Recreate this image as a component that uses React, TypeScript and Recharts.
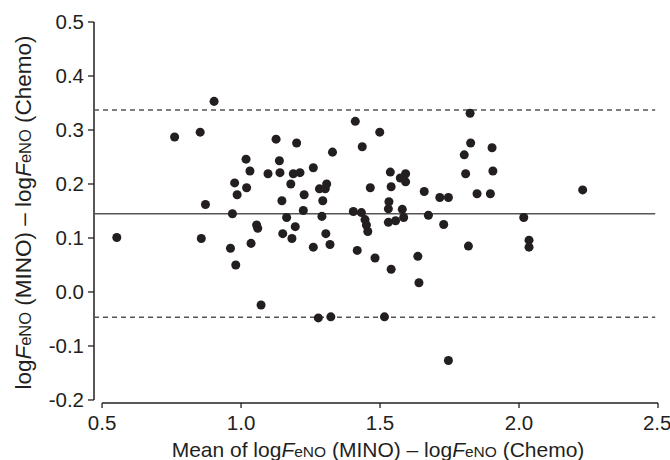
import {
  ScatterChart,
  Scatter,
  XAxis,
  YAxis,
  ZAxis,
  ReferenceLine
} from 'recharts';

// Bland-Altman: mean of the two log FeNO values vs their difference
const meanVals = [
  0.553, 0.761, 0.853, 0.857, 0.872, 0.903, 0.962, 0.969, 0.977, 0.981,
  0.986, 1.018, 1.020, 1.032, 1.036, 1.056, 1.060, 1.072, 1.097, 1.126,
  1.138, 1.140, 1.147, 1.150, 1.164, 1.179, 1.183, 1.188, 1.195, 1.200,
  1.212, 1.224, 1.227, 1.260, 1.260, 1.278, 1.282, 1.291, 1.294, 1.303,
  1.305, 1.308, 1.320, 1.323, 1.329, 1.404, 1.411, 1.418, 1.433, 1.436,
  1.446, 1.451, 1.456, 1.465, 1.482, 1.499, 1.516, 1.530, 1.530, 1.532,
  1.537, 1.540, 1.540, 1.556, 1.573, 1.580, 1.585, 1.592, 1.592, 1.636,
  1.640, 1.659, 1.674, 1.715, 1.729, 1.746, 1.746, 1.803, 1.808, 1.818,
  1.824, 1.826, 1.849, 1.897, 1.903, 1.906, 2.017, 2.036, 2.036, 2.229
];
const diffVals = [
  0.101, 0.287, 0.296, 0.099, 0.162, 0.353, 0.081, 0.145, 0.202, 0.050,
  0.180, 0.246, 0.193, 0.224, 0.090, 0.124, 0.118, -0.024, 0.219, 0.283,
  0.243, 0.221, 0.169, 0.108, 0.138, 0.200, 0.099, 0.219, 0.121, 0.276,
  0.221, 0.151, 0.180, 0.230, 0.083, -0.048, 0.191, 0.140, 0.169, 0.191,
  0.108, 0.200, 0.088, -0.046, 0.259, 0.149, 0.316, 0.077, 0.147, 0.269,
  0.134, 0.124, 0.112, 0.193, 0.063, 0.296, -0.046, 0.154, 0.129, 0.167,
  0.222, 0.195, 0.042, 0.132, 0.211, 0.153, 0.138, 0.219, 0.204, 0.066,
  0.017, 0.186, 0.142, 0.175, 0.125, 0.175, -0.127, 0.254, 0.219, 0.085,
  0.331, 0.276, 0.182, 0.182, 0.267, 0.224, 0.138, 0.096, 0.083, 0.189
];

const bias = 0.145;
const upperLoA = 0.337;
const lowerLoA = -0.047;

const xTicks = [0.5, 1.0, 1.5, 2.0, 2.5];
const yTicks = [-0.2, -0.1, 0.0, 0.1, 0.2, 0.3, 0.4, 0.5];

const data = meanVals.map((m, i) => ({ mean: m, diff: diffVals[i] }));

// axes are offset a little from the plot corner, Prism style
const xMin = 0.471;
const yMin = -0.2056;

const ink = '#231f20';
const font = '"Liberation Sans", Arial, sans-serif';

const Title = ({ prefix, sub }: { prefix?: string; sub: number }) => (
  <>
    {prefix}log<tspan fontStyle="italic">F</tspan>
    <tspan fontSize={sub}>eNO</tspan> (MINO) – log<tspan fontStyle="italic">F</tspan>
    <tspan fontSize={sub}>eNO</tspan> (Chemo)
  </>
);

const XTitle = (props: any) => {
  const vb = props.viewBox || { x: 94, y: 403, width: 564, height: 57 };
  const cx = vb.x + vb.width / 2 + 2;
  return (
    <text x={cx} y={vb.y + 54} textAnchor="middle" fontSize={21} fill={ink} fontFamily={font}>
      <Title prefix="Mean of " sub={15.5} />
    </text>
  );
};

const YTitle = (props: any) => {
  const vb = props.viewBox || { x: 0, y: 22, width: 94, height: 381 };
  const cx = 31;
  const cy = vb.y + vb.height / 2;
  return (
    <text
      x={cx}
      y={cy}
      textAnchor="middle"
      fontSize={22.5}
      fill={ink}
      fontFamily={font}
      transform={`rotate(-90, ${cx}, ${cy})`}
    >
      <Title sub={16.5} />
    </text>
  );
};

const App = () => {
  return (
    <div style={{ position: 'absolute', left: 0, top: 0, background: '#fff' }}>
      <ScatterChart width={670} height={460} margin={{ top: 22, right: 12, bottom: 0, left: 0 }}>
        <XAxis
          type="number"
          dataKey="mean"
          domain={[xMin, 2.5]}
          ticks={xTicks}
          tickFormatter={(v: number) => v.toFixed(1)}
          allowDataOverflow
          axisLine={false}
          tickLine={{ stroke: ink, strokeWidth: 1.3 }}
          tickSize={5}
          tickMargin={7}
          height={57}
          tick={{ fill: ink, fontSize: 20.5, fontFamily: font }}
          label={<XTitle />}
        />
        <YAxis
          type="number"
          dataKey="diff"
          domain={[yMin, 0.5]}
          ticks={yTicks}
          tickFormatter={(v: number) => v.toFixed(1)}
          allowDataOverflow
          axisLine={false}
          tickLine={{ stroke: ink, strokeWidth: 1.3 }}
          tickSize={6}
          tickMargin={4}
          width={94}
          tick={{ fill: ink, fontSize: 20.5, fontFamily: font }}
          label={<YTitle />}
        />
        <ZAxis range={[66, 66]} />
        {/* axis lines */}
        <ReferenceLine
          segment={[{ x: xMin, y: -0.2 }, { x: xMin, y: 0.5 }]}
          stroke={ink}
          strokeWidth={1.5}
          ifOverflow="visible"
        />
        <ReferenceLine
          segment={[{ x: 0.5, y: yMin }, { x: 2.5, y: yMin }]}
          stroke={ink}
          strokeWidth={1.5}
          ifOverflow="visible"
        />
        <ReferenceLine
          segment={[{ x: xMin, y: upperLoA }, { x: 2.49, y: upperLoA }]}
          stroke="#555"
          strokeWidth={1.5}
          strokeDasharray="5 4"
        />
        <ReferenceLine
          segment={[{ x: xMin, y: bias }, { x: 2.49, y: bias }]}
          stroke="#555"
          strokeWidth={1.5}
        />
        <ReferenceLine
          segment={[{ x: xMin, y: lowerLoA }, { x: 2.49, y: lowerLoA }]}
          stroke="#555"
          strokeWidth={1.5}
          strokeDasharray="5 4"
        />
        <Scatter data={data} fill={ink} isAnimationActive={false} />
      </ScatterChart>
    </div>
  );
};

export default App;
